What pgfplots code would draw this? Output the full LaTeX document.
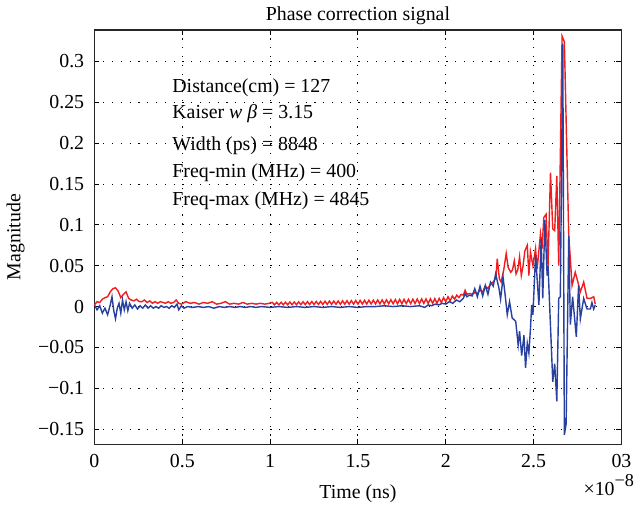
\documentclass[border=0pt]{standalone}
\usepackage{fontspec}
\setmainfont{Liberation Serif}
\usepackage{pgfplots}
\pgfplotsset{compat=1.18}
\definecolor{myred}{RGB}{240,30,30}
\definecolor{myblue}{RGB}{40,65,160}
\begin{document}
\fontsize{12}{14}\selectfont
\begin{tikzpicture}
\begin{axis}[
  scale only axis, width=317.4bp, height=249.6bp,
  xmin=0, xmax=3, ymin=-0.1687, ymax=0.3387,
  xtick={0,0.5,1,1.5,2,2.5,3}, xticklabels={0,0.5,1,1.5,2,2.5,03},
  ytick={-0.15,-0.1,-0.05,0,0.05,0.1,0.15,0.2,0.25,0.3},
  yticklabels={−0.15,−0.1,−0.05,0,0.05,0.1,0.15,0.2,0.25,0.3},
  /pgf/number format/assume math mode=true,
  grid=major, grid style={black, dash pattern=on 0.7bp off 4.6bp, line width=0.6bp},
  tick align=inside, tick pos=both, major tick length=3bp,
  tick style={black, line width=0.6bp},
  axis line style={black!85, line width=0.9bp},
  title={Phase correction signal}, title style={yshift=-7bp},
  xlabel={Time (ns)}, ylabel={Magnitude},
  xlabel style={yshift=-2bp}, ylabel style={yshift=0bp},
  xticklabel style={yshift=-2bp},
  yticklabel style={xshift=-2bp},
  every tick label/.append style={font=\fontsize{12}{14}\selectfont},
  clip=false,
]
\addplot[myred, line width=0.85bp] coordinates {
(0.000,0.002)(0.015,0.006)(0.030,0.005)(0.045,0.009)(0.060,0.011)(0.075,0.012)
(0.090,0.018)(0.105,0.022)(0.120,0.023)(0.135,0.019)(0.150,0.011)(0.165,0.015)
(0.180,0.018)(0.195,0.010)(0.210,0.008)(0.225,0.007)(0.240,0.009)(0.255,0.006)
(0.270,0.006)(0.285,0.008)(0.300,0.005)(0.315,0.007)(0.330,0.004)(0.345,0.006)
(0.360,0.004)(0.375,0.006)(0.390,0.005)(0.405,0.004)(0.420,0.006)(0.435,0.004)
(0.450,0.005)(0.465,0.008)(0.480,0.004)(0.495,0.003)(0.520,0.006)(0.545,0.004)
(0.570,0.005)(0.595,0.003)(0.620,0.005)(0.645,0.004)(0.670,0.006)(0.695,0.003)
(0.720,0.004)(0.745,0.006)(0.770,0.003)(0.795,0.004)(0.820,0.003)(0.845,0.005)
(0.870,0.003)(0.895,0.004)(0.920,0.003)(0.945,0.004)(0.970,0.003)(0.995,0.004)
(1.0125,0.0051)(1.025,0.0021)(1.0375,0.0052)(1.05,0.0021)(1.0625,0.0053)(1.075,0.0022)
(1.0875,0.0054)(1.1,0.0022)(1.1125,0.0056)(1.125,0.0023)(1.1375,0.0057)(1.15,0.0023)
(1.1625,0.0058)(1.175,0.0024)(1.1875,0.0059)(1.2,0.0024)(1.2125,0.0061)(1.225,0.0025)
(1.2375,0.0062)(1.25,0.0025)(1.2625,0.0063)(1.275,0.0026)(1.2875,0.0064)(1.3,0.0026)
(1.3125,0.0066)(1.325,0.0027)(1.3375,0.0067)(1.35,0.0027)(1.3625,0.0068)(1.375,0.0028)
(1.3875,0.0069)(1.4,0.0028)(1.4125,0.0071)(1.425,0.0029)(1.4375,0.0072)(1.45,0.0029)
(1.4625,0.0073)(1.475,0.0030)(1.4875,0.0074)(1.5,0.0030)(1.5125,0.0076)(1.525,0.0031)
(1.5375,0.0077)(1.55,0.0031)(1.5625,0.0078)(1.575,0.0032)(1.5875,0.0079)(1.6,0.0032)
(1.6125,0.0081)(1.625,0.0033)(1.6375,0.0082)(1.65,0.0033)(1.6625,0.0083)(1.675,0.0034)
(1.6875,0.0084)(1.7,0.0034)(1.7125,0.0086)(1.725,0.0035)(1.7375,0.0087)(1.75,0.0035)
(1.7625,0.0088)(1.775,0.0036)(1.7875,0.0089)(1.8,0.0036)(1.8125,0.0091)(1.825,0.0037)
(1.8375,0.0092)(1.85,0.0037)(1.8625,0.0093)(1.875,0.0038)(1.8875,0.0094)(1.9,0.0038)
(1.9125,0.0096)(1.925,0.0039)(1.9375,0.0097)(1.95,0.0040)(1.9625,0.0100)(1.975,0.0050)
(1.9875,0.0110)(2.000,0.0060)(2.0125,0.0120)(2.025,0.0070)(2.0375,0.0130)(2.05,0.0090)
(2.0625,0.0140)(2.075,0.0110)(2.0875,0.0150)(2.10,0.0140)(2.11,0.0200)(2.12,0.0150)
(2.135,0.0160)(2.15,0.0150)(2.165,0.0170)(2.18,0.0160)(2.195,0.0200)(2.21,0.0180)
(2.225,0.0250)(2.24,0.0220)(2.255,0.0280)(2.27,0.0300)(2.285,0.0350)(2.293,0.0585)
(2.305,0.0340)(2.315,0.0300)(2.33,0.0450)(2.344,0.0650)(2.355,0.0480)(2.37,0.0420)
(2.38,0.0450)(2.39,0.0560)(2.40,0.0400)(2.41,0.0450)(2.42,0.0610)(2.43,0.0380)
(2.44,0.0500)(2.45,0.0680)(2.464,0.0750)(2.473,0.038)(2.482,0.067)(2.496,0.050)
(2.511,0.071)(2.520,0.046)(2.539,0.089)(2.548,0.071)(2.558,0.109)(2.571,0.113)
(2.582,0.050)(2.596,0.164)(2.609,0.095)(2.620,0.093)(2.632,0.160)(2.643,0.050)
(2.662,0.331)(2.675,0.324)(2.700,0.087)(2.719,0.026)(2.737,0.042)(2.752,0.030)
(2.766,0.018)(2.785,0.030)(2.804,0.010)(2.823,0.010)(2.842,0.012)(2.851,0.003)
};
\addplot[myblue, line width=0.85bp] coordinates {
(0.000,0.002)(0.015,-0.004)(0.030,0.001)(0.045,-0.008)(0.060,-0.002)(0.075,-0.010)
(0.090,0.002)(0.100,0.012)(0.110,-0.005)(0.120,-0.015)(0.130,-0.002)(0.140,0.004)
(0.150,-0.008)(0.160,0.008)(0.170,-0.004)(0.180,0.006)(0.190,-0.005)(0.200,0.004)
(0.215,-0.002)(0.230,0.002)(0.245,-0.003)(0.260,0.001)(0.275,-0.002)(0.290,0.002)
(0.305,-0.002)(0.320,0.001)(0.335,-0.002)(0.350,0.000)(0.365,-0.002)(0.380,0.001)
(0.395,-0.001)(0.410,0.000)(0.425,-0.002)(0.440,0.001)(0.455,-0.001)(0.470,0.003)
(0.480,-0.004)(0.495,0.001)(0.510,-0.002)(0.530,0.000)(0.56,-0.001)(0.59,0.000)
(0.62,-0.001)(0.65,0.000)(0.68,-0.002)(0.71,0.000)(0.74,-0.001)(0.77,0.000)
(0.80,-0.001)(0.83,0.000)(0.86,-0.001)(0.89,0.000)(0.92,-0.001)(0.95,0.000)
(1.00,-0.001)(1.05,0.000)(1.10,-0.001)(1.15,0.000)(1.20,-0.001)(1.25,0.000)
(1.30,-0.001)(1.35,0.000)(1.40,-0.001)(1.45,0.000)(1.50,-0.001)(1.55,0.000)
(1.60,0.000)(1.65,0.001)(1.70,0.000)(1.75,0.001)(1.80,0.000)(1.85,0.001)
(1.88,-0.001)(1.90,0.002)(1.92,0.001)(1.94,0.003)(1.96,0.002)(1.98,0.004)
(2.00,0.003)(2.02,0.006)(2.04,0.004)(2.06,0.008)(2.08,0.006)(2.10,0.010)
(2.11,0.016)(2.12,0.012)(2.135,0.014)(2.15,0.013)(2.165,0.022)(2.18,0.012)
(2.195,0.025)(2.21,0.013)(2.225,0.026)(2.24,0.015)(2.255,0.030)(2.27,0.025)
(2.284,0.040)(2.303,0.022)(2.312,0.009)(2.326,0.036)(2.337,0.016)(2.350,-0.010)
(2.363,0.006)(2.378,-0.014)(2.398,-0.018)(2.412,-0.047)(2.420,-0.030)(2.432,-0.060)
(2.445,-0.035)(2.454,-0.075)(2.464,-0.045)(2.473,-0.057)(2.482,-0.027)(2.489,0.002)
(2.496,-0.010)(2.511,0.063)(2.530,0.002)(2.543,0.083)(2.552,0.010)(2.564,0.106)
(2.577,0.038)(2.582,0.050)(2.609,-0.092)(2.620,-0.070)(2.632,-0.116)(2.643,0.010)
(2.652,0.012)(2.666,0.322)(2.675,-0.157)(2.685,-0.144)(2.700,0.087)(2.709,-0.022)
(2.722,0.012)(2.743,-0.037)(2.756,0.026)(2.766,-0.015)(2.785,0.010)(2.804,-0.003)
(2.823,-0.003)(2.832,0.005)(2.842,-0.003)(2.851,0.002)
};
\node[anchor=west, inner sep=0pt] at (axis cs:0.442,0.268) {Distance(cm) = 127};
\node[anchor=west, inner sep=0pt] at (axis cs:0.442,0.236) {Kaiser \textit{w} \textit{β} = 3.15};
\node[anchor=west, inner sep=0pt] at (axis cs:0.442,0.197) {Width (ps) = 8848};
\node[anchor=west, inner sep=0pt] at (axis cs:0.442,0.164) {Freq-min (MHz) = 400};
\node[anchor=west, inner sep=0pt] at (axis cs:0.442,0.129) {Freq-max (MHz) = 4845};
\node[anchor=north west, inner sep=0pt] at ([xshift=-23bp, yshift=-18bp]rel axis cs:1,0) {×10\raisebox{0.42em}{\fontsize{11}{12}\selectfont −8}};
\end{axis}
\end{tikzpicture}
\end{document}
